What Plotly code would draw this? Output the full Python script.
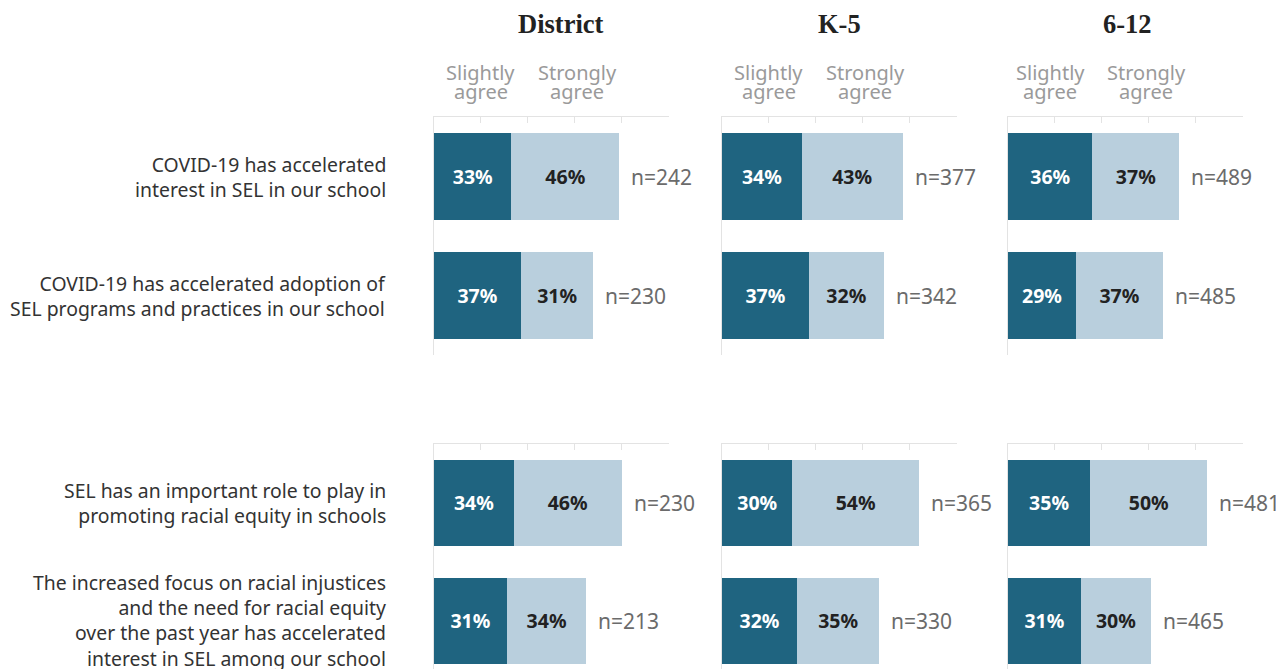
import plotly.graph_objects as go

# page has an 8px body margin: figure occupies page px 8..1284, 8..669
OFF = 8
W, H = 1284 - OFF, 669 - OFF

groups = ["District", "K-5", "6-12"]
statements = [
    "COVID-19 has accelerated<br>interest in SEL in our school",
    "COVID-19 has accelerated adoption of<br>SEL programs and practices in our school",
    "SEL has an important role to play in<br>promoting racial equity in schools",
    "The increased focus on racial injustices<br>and the need for racial equity<br>over the past year has accelerated<br>interest in SEL among our school",
]
slightly_district = [33, 37, 34, 31]
strongly_district = [46, 31, 46, 34]
n_district = [242, 230, 230, 213]
slightly_k5 = [34, 37, 30, 32]
strongly_k5 = [43, 32, 54, 35]
n_k5 = [377, 342, 365, 330]
slightly_612 = [36, 29, 35, 31]
strongly_612 = [37, 37, 50, 30]
n_612 = [489, 485, 481, 465]

slightly = [slightly_district, slightly_k5, slightly_612]
strongly = [strongly_district, strongly_k5, strongly_612]
ns = [n_district, n_k5, n_612]

DARK = "#1f6480"
LIGHT = "#b9cfdd"
GRID = "#e3e3e3"
FONT = "Noto Sans"


def px_x(p):
    return (p - OFF) / W


def px_y(p):
    return 1 - (p - OFF) / H


col_px = [(434, 668.5), (722, 956.5), (1008, 1242.5)]
row_px = [(117, 355), (444, 669)]
row_range = [[1.5, -0.5], [1.407, -0.5]]
row_items = [[0, 1], [2, 3]]

fig = go.Figure()
layout = dict(
    width=W, height=H,
    margin=dict(l=0, r=0, t=0, b=0),
    paper_bgcolor="white", plot_bgcolor="white",
    showlegend=False, barmode="stack", bargap=0.27,
    font=dict(family=FONT),
)
annotations = []

for r in range(2):
    cats = [statements[i] for i in row_items[r]]
    for c in range(3):
        k = r * 3 + c + 1
        xa = "x" if k == 1 else f"x{k}"
        ya = "y" if k == 1 else f"y{k}"
        xkey = "xaxis" if k == 1 else f"xaxis{k}"
        ykey = "yaxis" if k == 1 else f"yaxis{k}"
        s_vals = [slightly[c][i] for i in row_items[r]]
        g_vals = [strongly[c][i] for i in row_items[r]]
        n_vals = [ns[c][i] for i in row_items[r]]
        fig.add_trace(go.Bar(
            x=s_vals, y=cats, orientation="h", xaxis=xa, yaxis=ya,
            marker=dict(color=DARK, line=dict(width=0)),
            text=[f"{v}%" for v in s_vals], textposition="inside",
            insidetextanchor="middle", textangle=0, constraintext="none",
            textfont=dict(family=FONT, size=19.5, color="white", weight="bold"),
            hoverinfo="skip",
        ))
        fig.add_trace(go.Bar(
            x=g_vals, y=cats, orientation="h", xaxis=xa, yaxis=ya,
            marker=dict(color=LIGHT, line=dict(width=0)),
            text=[f"{v}%" for v in g_vals], textposition="inside",
            insidetextanchor="middle", textangle=0, constraintext="none",
            textfont=dict(family=FONT, size=19.5, color="#222222", weight="bold"),
            hoverinfo="skip",
        ))
        x0, x1 = col_px[c]
        y0, y1 = row_px[r]
        layout[xkey] = dict(
            domain=[px_x(x0), px_x(x1)], range=[0, 100], anchor=ya, side="top",
            showline=True, linecolor=GRID, linewidth=1,
            ticks="inside", ticklen=6, tickcolor=GRID, tickwidth=1,
            tickvals=[0, 20, 40, 60, 80, 100], showticklabels=False,
            showgrid=False, zeroline=False, fixedrange=True,
        )
        layout[ykey] = dict(
            domain=[max(0, px_y(y1)), px_y(y0)], range=row_range[r], anchor=xa,
            type="category", categoryorder="array", categoryarray=cats,
            showline=True, linecolor=GRID, linewidth=1,
            ticks="", showticklabels=False, showgrid=False, zeroline=False,
            fixedrange=True,
        )
        for cat, sv, gv, nv in zip(cats, s_vals, g_vals, n_vals):
            annotations.append(dict(
                x=sv + gv, y=cat, xref=xa, yref=ya, xanchor="left",
                yanchor="middle", xshift=10, showarrow=False,
                text=f"n={nv}", font=dict(family=FONT, size=21, color="#6b6b6b"),
            ))
        if c == 0:
            for cat in cats:
                annotations.append(dict(
                    x=px_x(388), y=cat, xref="paper", yref=ya, xanchor="right",
                    yanchor="middle", align="right", showarrow=False, text=cat,
                    font=dict(family=FONT, size=19.4, color="#333333"),
                ))

# column headers
for c, g in enumerate(groups):
    xa = "x" if c == 0 else f"x{c + 1}"
    annotations.append(dict(
        x=[54, 50, 51][c], y=px_y(24), xref=xa, yref="paper",
        xanchor="center", yanchor="middle", showarrow=False, text=f"<b>{g}</b>",
        font=dict(family="Liberation Serif", size=26.5, color="#222222"),
    ))
    for xv, word in [([20, 20, 18][c], "Slightly"), ([61, 61, 59][c], "Strongly")]:
        annotations.append(dict(
            x=xv, y=px_y(72), xref=xa, yref="paper", xanchor="center",
            yanchor="middle", showarrow=False, text=word,
            font=dict(family=FONT, size=20, color="#9a9a9a"),
        ))
        annotations.append(dict(
            x=xv, y=px_y(91), xref=xa, yref="paper", xanchor="center",
            yanchor="middle", showarrow=False, text="agree",
            font=dict(family=FONT, size=20, color="#9a9a9a"),
        ))

layout["annotations"] = annotations
fig.update_layout(**layout)
fig.write_html("out.html")
